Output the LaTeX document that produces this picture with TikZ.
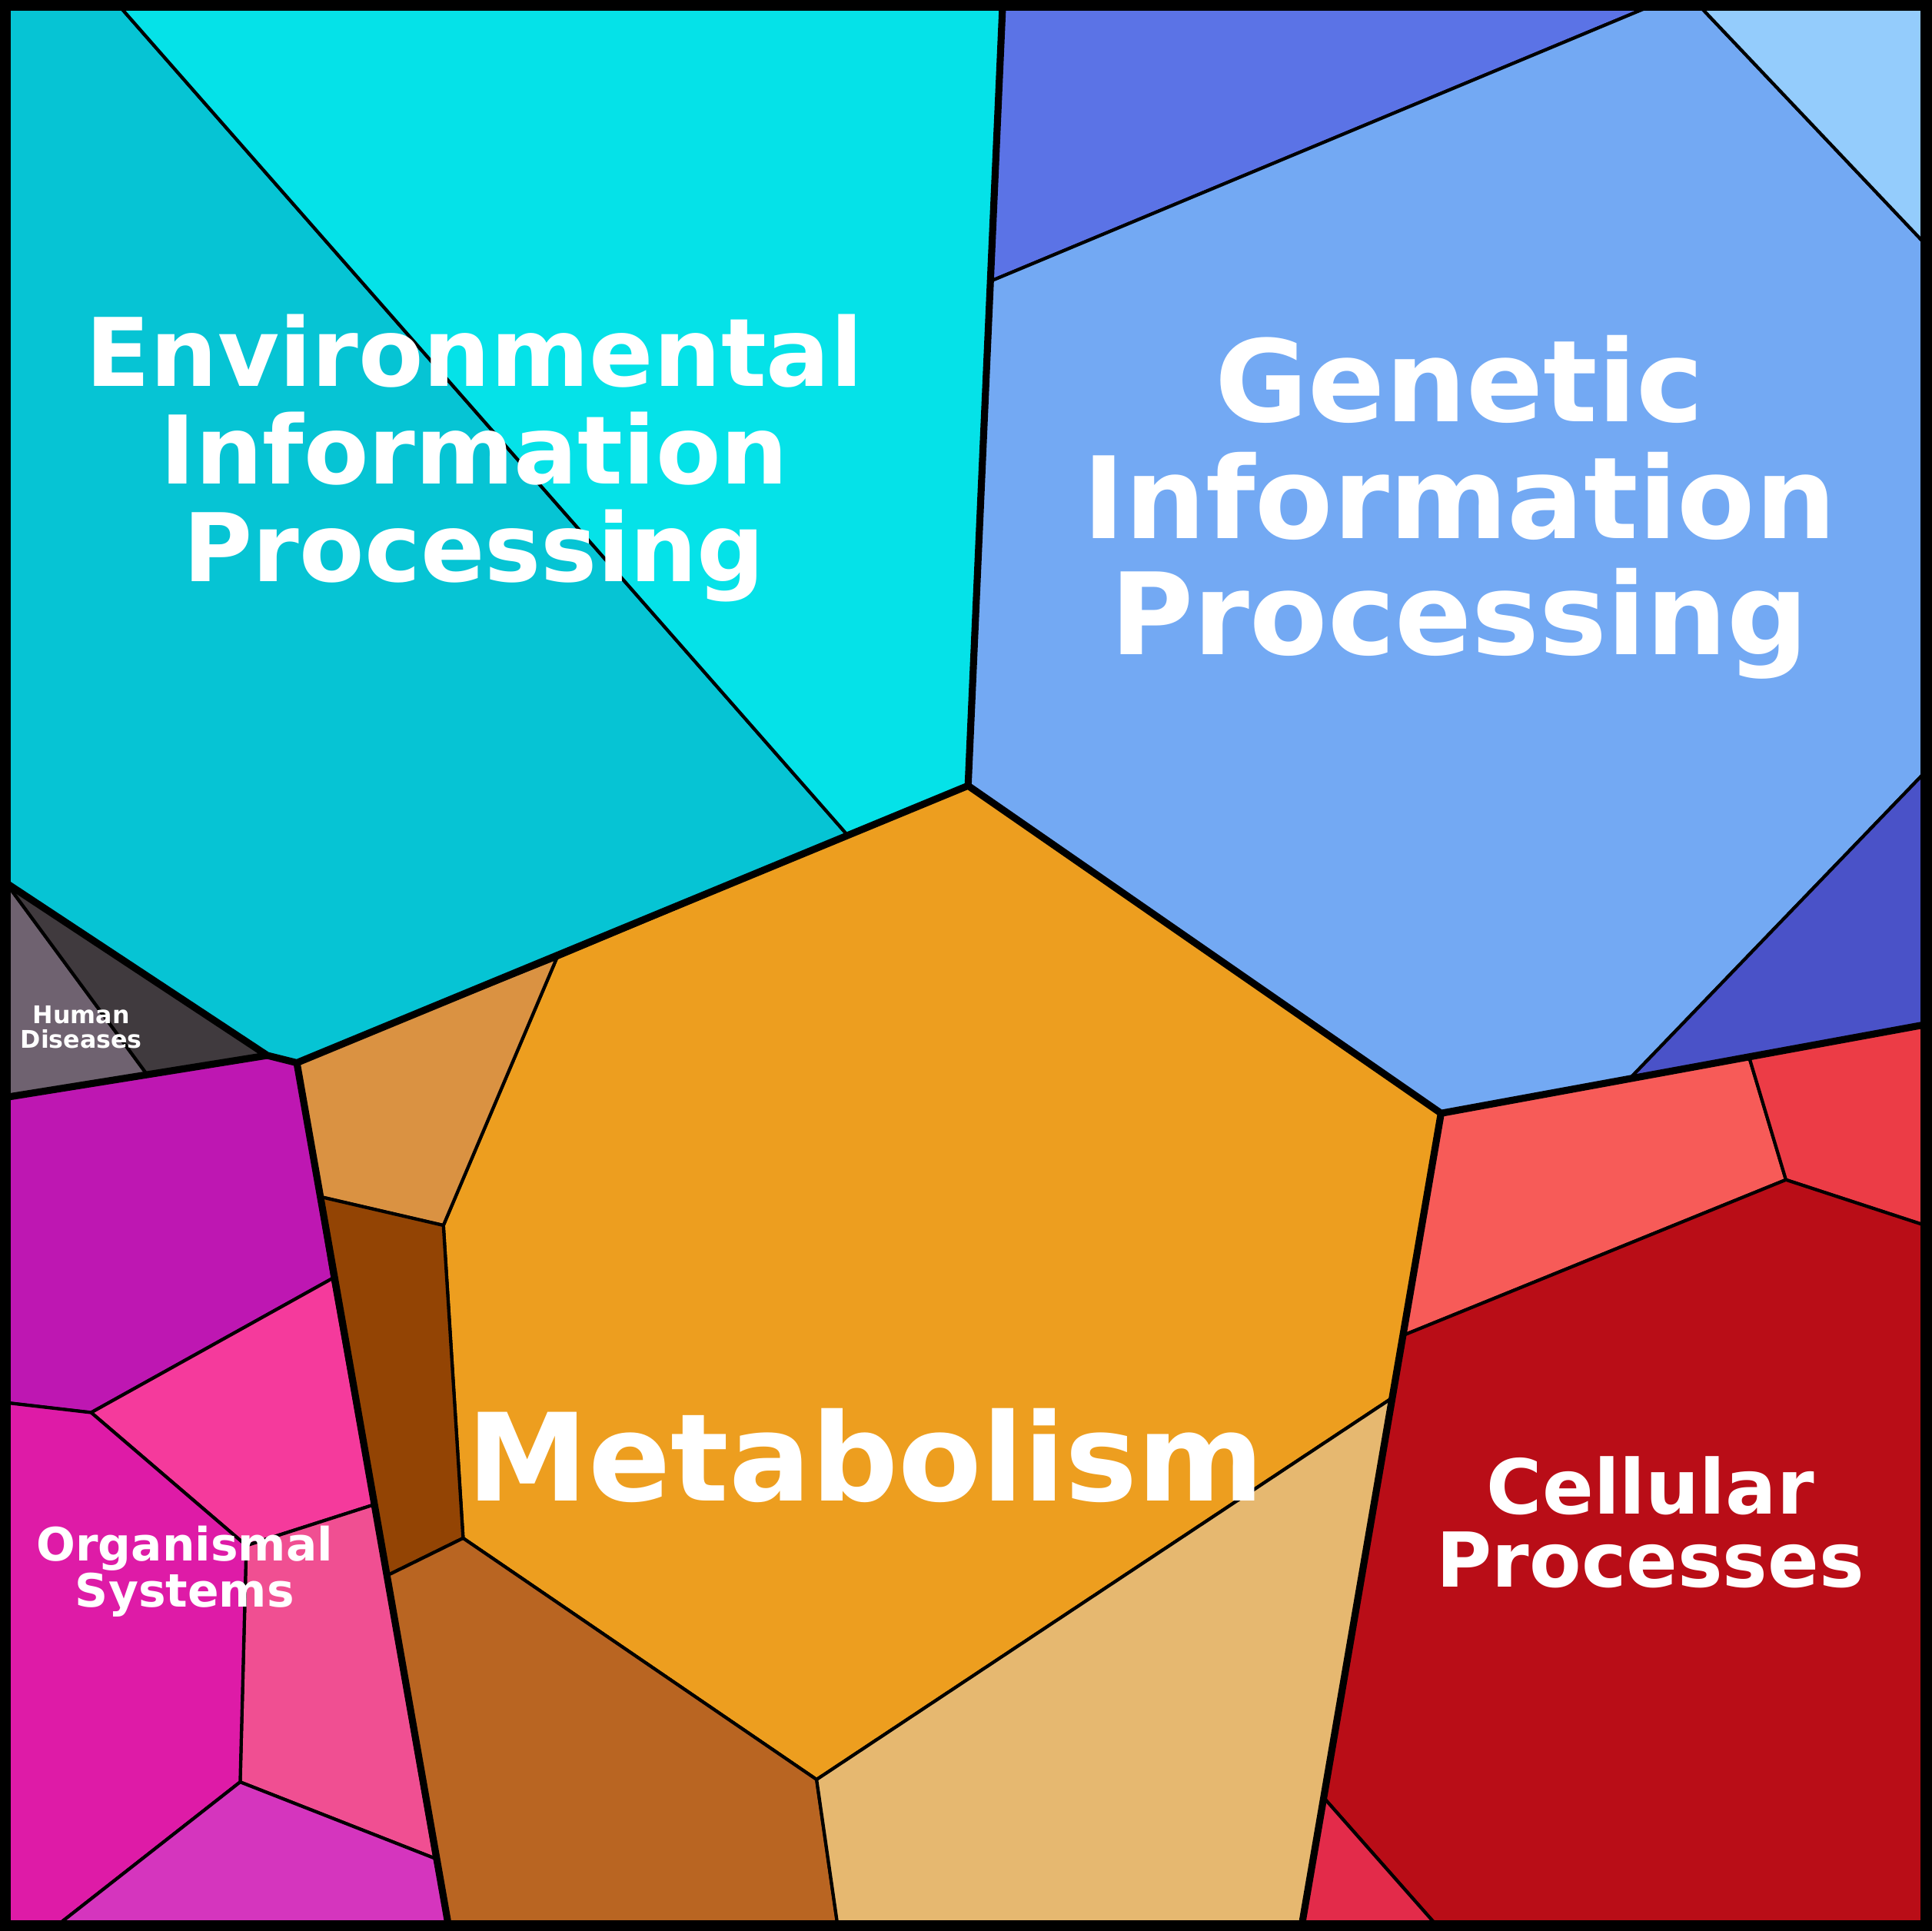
\documentclass[tikz,border=0pt]{standalone}
\usepackage{fontspec}
\setmainfont{DejaVu Sans}
\begin{document}
\begin{tikzpicture}[x=0.016cm,y=-0.016cm,
 cell/.style={draw=black,line width=1.2pt,line join=round},
 big/.style={draw=black,line width=2.6pt,line cap=round,line join=round},
 lab/.style={text=white,font=\bfseries,align=center,inner sep=0pt}]
\useasboundingbox (0,0) rectangle (1568,1568);
\definecolor{c1}{HTML}{06C4D4}\definecolor{c2}{HTML}{05E2E8}
\definecolor{g1}{HTML}{5B73E6}\definecolor{g2}{HTML}{73A9F3}\definecolor{g3}{HTML}{94CCFC}\definecolor{g4}{HTML}{4A52C8}
\definecolor{r1}{HTML}{F75B58}\definecolor{r2}{HTML}{EC3C46}\definecolor{r3}{HTML}{B90D17}\definecolor{r4}{HTML}{E32B4A}
\definecolor{m1}{HTML}{ED9E1F}\definecolor{m2}{HTML}{DA9242}\definecolor{m3}{HTML}{934404}\definecolor{m4}{HTML}{B96522}\definecolor{m5}{HTML}{E6B870}
\definecolor{o1}{HTML}{BE17B2}\definecolor{o2}{HTML}{F53A9C}\definecolor{o3}{HTML}{F04F92}\definecolor{o4}{HTML}{DE1BA7}\definecolor{o5}{HTML}{D535BE}
\definecolor{h1}{HTML}{6F6270}\definecolor{h2}{HTML}{403A3E}
\filldraw[cell,fill=c1] (5,5)--(97,5)--(688,678)--(241,863)--(217,857)--(5,717)--cycle;
\filldraw[cell,fill=c2] (97,5)--(814,5)--(786,638)--(688,678)--cycle;
\filldraw[cell,fill=g1] (814,5)--(1340,5)--(805,228)--cycle;
\filldraw[cell,fill=g2] (1340,5)--(1380,5)--(1563,198)--(1563,627)--(1324,875)--(1170,904)--(786,638)--(805,228)--cycle;
\filldraw[cell,fill=g3] (1380,5)--(1563,5)--(1563,198)--cycle;
\filldraw[cell,fill=g4] (1563,627)--(1563,832)--(1324,875)--cycle;
\filldraw[cell,fill=r1] (1170,904)--(1324,875)--(1420,858)--(1450,958)--(1140,1084)--cycle;
\filldraw[cell,fill=r2] (1420,858)--(1563,832)--(1563,995)--(1450,958)--cycle;
\filldraw[cell,fill=r3] (1450,958)--(1563,995)--(1563,1563)--(1166,1563)--(1075,1460)--(1129,1136)--(1140,1084)--cycle;
\filldraw[cell,fill=r4] (1075,1460)--(1166,1563)--(1057,1563)--cycle;
\filldraw[cell,fill=m1] (786,638)--(1170,904)--(1129,1136)--(663,1445)--(376,1249)--(360,995)--(452,778)--cycle;
\filldraw[cell,fill=m2] (241,863)--(452,778)--(360,995)--(261,972)--cycle;
\filldraw[cell,fill=m3] (261,972)--(360,995)--(376,1249)--(315,1279)--cycle;
\filldraw[cell,fill=m4] (315,1279)--(376,1249)--(663,1445)--(680,1563)--(364,1563)--cycle;
\filldraw[cell,fill=m5] (663,1445)--(1129,1136)--(1057,1563)--(680,1563)--cycle;
\filldraw[cell,fill=o1] (5,891)--(217,857)--(241,863)--(270,1038)--(74,1147)--(5,1139)--cycle;
\filldraw[cell,fill=o2] (74,1147)--(270,1038)--(303,1222)--(200,1255)--cycle;
\filldraw[cell,fill=o3] (200,1255)--(303,1222)--(353,1509)--(195,1447)--cycle;
\filldraw[cell,fill=o4] (5,1139)--(74,1147)--(200,1255)--(195,1447)--(47,1563)--(5,1563)--cycle;
\filldraw[cell,fill=o5] (195,1447)--(353,1509)--(364,1563)--(47,1563)--cycle;
\filldraw[cell,fill=h1] (5,717)--(119,872)--(5,891)--cycle;
\filldraw[cell,fill=h2] (5,717)--(217,857)--(119,872)--cycle;
\draw[big] (5,717)--(217,857)--(241,863)--(786,638)--(1170,904)--(1563,832);
\draw[big] (786,638)--(814,5);
\draw[big] (1170,904)--(1057,1563);
\draw[big] (241,863)--(364,1563);
\draw[big] (5,891)--(217,857);
\draw[black,line width=5pt] (3,3) rectangle (1565,1565);
\node[lab,font=\bfseries\fontsize{35}{36}\selectfont] (env) at (385,372) {Environmental\\Information\\Processing};
\node[lab,font=\bfseries\fontsize{42}{43}\selectfont] (gen) at (1185,412) {Genetic\\Information\\Processing};
\node[lab,font=\bfseries\fontsize{45}{46}\selectfont] (met) at (703,1182) {Metabolism};
\node[lab,font=\bfseries\fontsize{28}{27}\selectfont] (cel) at (1340,1236) {Cellular\\Processes};
\node[lab,font=\bfseries\fontsize{17}{17}\selectfont] (org) at (150,1276) {Organismal\\Systems};
\node[lab,font=\bfseries\fontsize{9}{9}\selectfont] (hum) at (66,834) {Human\\Diseases};
\end{tikzpicture}
\end{document}
